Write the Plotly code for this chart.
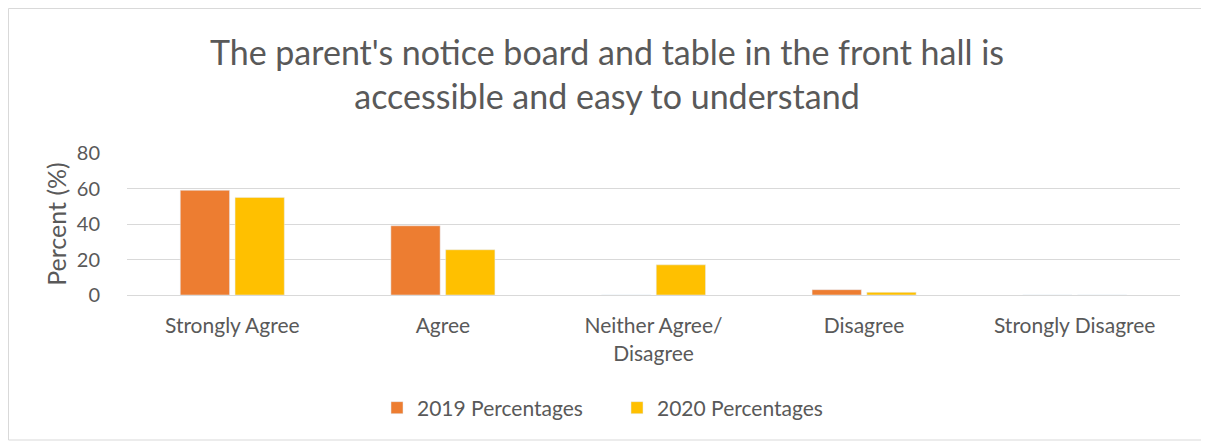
import plotly.graph_objects as go

categories = ["Strongly Agree", "Agree", "Neither Agree/<br>Disagree", "Disagree", "Strongly Disagree"]
pct_2019 = [59, 39, 0, 3, 0]
pct_2020 = [55, 25.5, 17, 1.5, 0]

font_family = "Lato, 'Open Sans', sans-serif"
grey = "#595959"

# the page puts the figure 8px in from the top-left corner
W, H = 1201, 435
left, right, top, bottom = 119, 29, 145, 148
plot_h = H - top - bottom
plot_w = W - left - right

fig = go.Figure()
fig.add_trace(go.Bar(x=categories, y=pct_2019, name="2019 Percentages", marker_color="#ED7D31"))
fig.add_trace(go.Bar(x=categories, y=pct_2020, name="2020 Percentages", marker_color="#FFC000"))

fig.update_layout(
    width=W, height=H,
    margin=dict(l=left, r=right, t=top, b=bottom),
    paper_bgcolor="white", plot_bgcolor="white",
    font=dict(family=font_family, color=grey),
    title=dict(
        text="The parent's notice board and table in the front hall is<br>accessible and easy to understand",
        x=(607 - 8) / W, xanchor="center", y=1 - 57 / H, yanchor="middle", yref="container",
        font=dict(size=34, color=grey),
    ),
    barmode="group", bargap=0.48, bargroupgap=0.1,
    legend=dict(orientation="h", x=(617 - 8 - left) / plot_w, xanchor="center",
                y=(H - bottom - 400) / plot_h, yanchor="middle",
                font=dict(size=21, color=grey), itemwidth=30,
                entrywidth=195, entrywidthmode="pixels"),
    showlegend=True,
)
fig.update_yaxes(
    range=[0, 80], dtick=20, showgrid=True, gridcolor="#D9D9D9", gridwidth=1,
    zeroline=False, showline=False,
    ticks="outside", ticklen=22, tickcolor="white",
    tickfont=dict(size=20, color=grey),
    title=dict(text="Percent (%)", font=dict(size=25, color=grey), standoff=3),
)
fig.update_xaxes(
    showline=True, linecolor="#D9D9D9", linewidth=1,
    ticks="outside", ticklen=12, tickcolor="white",
    tickfont=dict(size=21, color=grey),
)
fig.add_shape(type="rect", xref="paper", yref="paper",
              x0=(0.5 - left) / plot_w, x1=(W - 2 - left) / plot_w,
              y0=(H - bottom - 432) / plot_h, y1=(H - bottom - 0.5) / plot_h,
              line=dict(color="#D9D9D9", width=1), fillcolor="rgba(0,0,0,0)")

fig.write_html("out.html")
